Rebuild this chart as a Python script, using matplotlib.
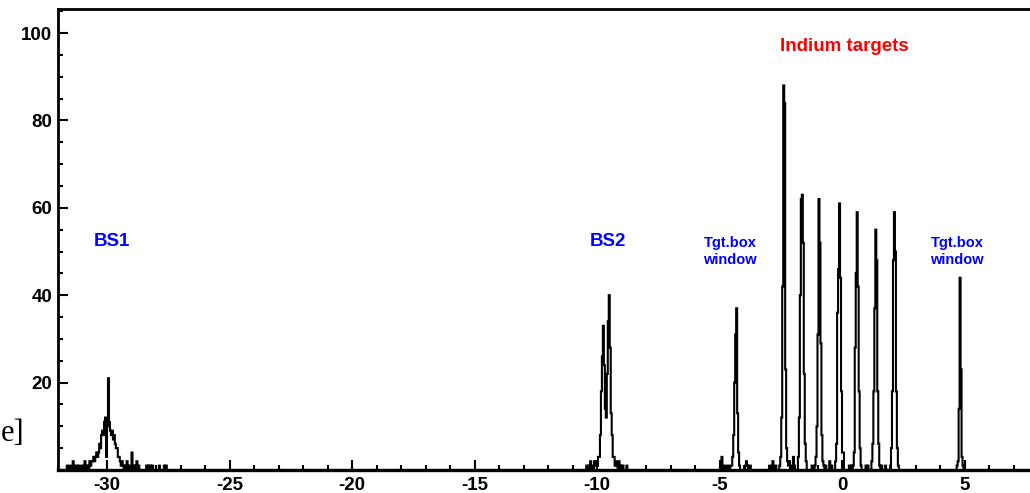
import numpy as np
import matplotlib
matplotlib.use("Agg")
import matplotlib.pyplot as plt
from matplotlib.ticker import MultipleLocator

# Histogram binning (position axis)
x_min, x_max, bin_w = -32.0, 8.0, 0.04

# Peak segments: (left edge of first bin, counts per bin)
bs1_start = -31.72
bs1_counts = [0, 0, 1, 0, 0, 1, 0, 0, 2, 1, 0, 0, 1, 0, 1, 1, 0, 0, 1, 0, 2, 1, 0, 1, 0, 2, 1, 2,
              2, 3, 2, 3, 4, 3,
              4, 6, 5, 8, 9,
              8, 11, 12, 3, 10, 21, 11, 9, 8, 9, 7, 8, 6, 5, 5, 3, 3, 2, 1, 2, 1,
              0, 1, 0, 2, 0, 1, 0, 0, 4, 1, 0, 1, 0, 2, 0, 1, 0, 0, 0, 0, 0, 0, 0, 1,
              0, 1, 0, 1, 0, 1, 0, 0, 0, 0, 0, 0, 1, 0, 0, 0, 0, 1, 0, 1]

bs2_start = -10.44
bs2_counts = [1, 0, 1, 0, 2, 0, 1, 0, 2, 1, 2, 1, 3, 3, 8, 18, 26, 33, 24, 14, 12, 22, 34, 40,
              28, 13, 8, 3, 3, 1, 2, 1, 0, 2, 0, 1, 0, 1, 0, 0, 0, 1]

win1_start = -5.00
win1_counts = [0, 0, 3, 0, 0, 1, 0, 0, 1, 0, 0, 1, 1, 3, 8, 20, 31, 37, 13, 4, 1, 0, 0, 0,
               0, 0, 1, 2, 1, 0, 1, 1]

indium_starts = [-2.56, -1.80, -1.12, -0.28, 0.44, 1.20, 1.96]
indium_counts = [
    [1, 3, 12, 42, 88, 84, 23, 5, 2, 1],
    [3, 12, 40, 62, 63, 52, 22, 6, 2],
    [1, 3, 10, 31, 62, 52, 29, 8, 2, 1],
    [2, 6, 36, 46, 61, 44, 18, 4, 1],
    [1, 4, 28, 45, 59, 42, 18, 5, 1],
    [2, 6, 18, 37, 55, 48, 18, 6, 1],
    [1, 5, 18, 48, 59, 50, 18, 5, 1],
]

win2_start = 4.68
win2_counts = [1, 2, 14, 44, 23, 3, 1]

# Isolated low-count bins between the target peaks: (position, counts)
bg_pos = [-2.94, -2.82, -2.69, -2.16, -2.08, -2.00, -1.92, -1.22, -0.65, -0.49, -0.41,
          0.08, 0.29, 0.37, 0.98, 1.06, 1.63, 1.80]
bg_cnt = [1, 2, 1, 2, 1, 3, 1, 1, 1, 2, 1, 3, 1, 1, 1, 1, 1, 1]

# Assemble the full histogram
n_bins = int(round((x_max - x_min) / bin_w))
edges = x_min + bin_w * np.arange(n_bins + 1)
hist = np.zeros(n_bins)


def add_segment(start, counts):
    k0 = int(round((start - x_min) / bin_w))
    hist[k0:k0 + len(counts)] += np.asarray(counts, dtype=float)


add_segment(bs1_start, bs1_counts)
add_segment(bs2_start, bs2_counts)
add_segment(win1_start, win1_counts)
for s, c in zip(indium_starts, indium_counts):
    add_segment(s, c)
add_segment(win2_start, win2_counts)
for p, c in zip(bg_pos, bg_cnt):
    hist[int((p - x_min) / bin_w)] += c

# Figure layout
W, H = 1030, 493
fig = plt.figure(figsize=(W / 100, H / 100), dpi=100)
ax = fig.add_axes([58 / W, 23 / H, 980 / W, 461 / H])

ax.stairs(hist, edges, color="black", linewidth=1.5, baseline=0)

ax.set_xlim(x_min, x_max)
ax.set_ylim(0, 105.5)

ax.set_yticks([20, 40, 60, 80, 100])
ax.yaxis.set_minor_locator(MultipleLocator(5))
ax.set_xticks([-30, -25, -20, -15, -10, -5, 0, 5])
ax.xaxis.set_minor_locator(MultipleLocator(1))

tick_font = dict(family="Liberation Sans", weight="bold", size=13.5)
ax.set_xticklabels(["-30", "-25", "-20", "-15", "-10", "-5", "0", "5"], **tick_font)
ax.set_yticklabels(["20", "40", "60", "80", "100"], **tick_font)

ax.tick_params(which="both", direction="in", top=False, right=False, width=1.5)
ax.tick_params(which="major", length=7.5, pad=4)
ax.tick_params(which="minor", length=3.8)
ax.tick_params(axis="x", which="major", pad=5)

for side in ["left", "bottom", "top", "right"]:
    ax.spines[side].set_linewidth(2.0)
ax.spines["bottom"].set_linewidth(2.4)

lab = dict(family="Liberation Sans", weight="bold", ha="center", va="center")
ax.text(-29.8, 52.2, "BS1", color="#0000ff", size=13.5, **lab)
ax.text(-9.55, 52.2, "BS2", color="#0000ff", size=13.5, **lab)
ax.text(-4.57, 50.0, "Tgt.box\nwindow", color="#0000ff", size=10.5, linespacing=1.3, **lab)
ax.text(4.69, 50.0, "Tgt.box\nwindow", color="#0000ff", size=10.5, linespacing=1.3, **lab)
ax.text(0.08, 97.0, "Indium targets", color="#ff0000", size=13.5, **lab)

# Fragment of the axis caption at the left edge
fig.text(0.5 / W, 52 / H, "e]", family="Liberation Serif", size=22,
         ha="left", va="baseline", color="black")

fig.savefig("out.png", dpi=100)
